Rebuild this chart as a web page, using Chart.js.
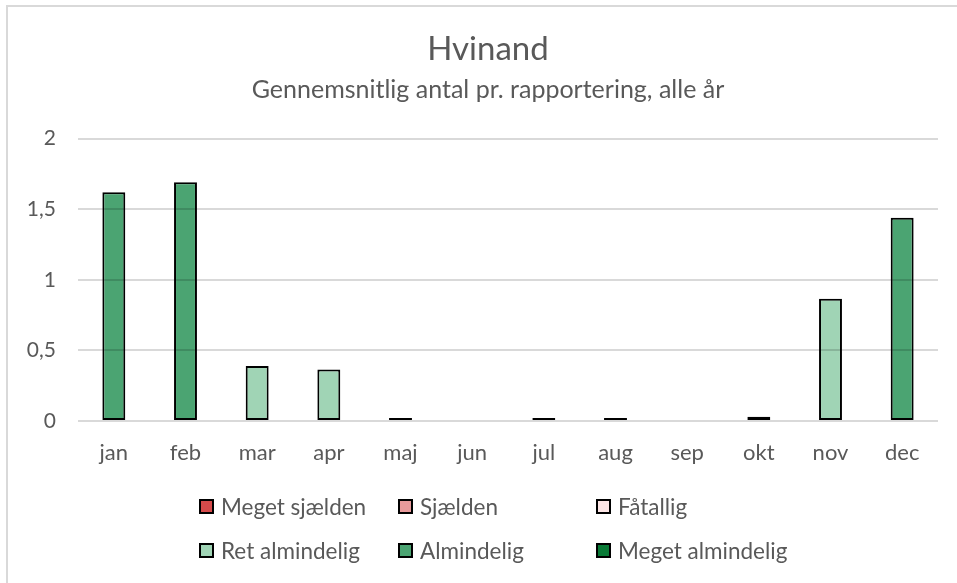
<!DOCTYPE html>
<html>
<head>
<meta charset="utf-8">
<script src="https://cdn.jsdelivr.net/npm/chart.js@4/dist/chart.umd.min.js"></script>
<style>
  html, body { margin: 0; padding: 0; background: #fff; overflow: hidden; }
  body { width: 957px; height: 583px; position: relative; font-family: Lato, "Open Sans", sans-serif; }
  #frame { position: absolute; left: 6px; top: 5px; width: 1000px; height: 1000px; border: 2px solid #d9d9d9; box-sizing: border-box; }
  #wrap { position: absolute; left: 0; top: 0; width: 957px; height: 583px; }
  .lg { position: absolute; display: flex; align-items: center; font-size: 22.5px; color: #595959; white-space: nowrap; height: 26px; }
  .lg .box { width: 11px; height: 11px; border: 2px solid #000; margin-right: 7px; }
</style>
</head>
<body>
<div id="frame"></div>
<div id="wrap"><canvas id="c" width="957" height="583"></canvas></div>
<script>
const months = ['jan','feb','mar','apr','maj','jun','jul','aug','sep','okt','nov','dec'];
const values = [1.62, 1.69, 0.39, 0.365, 0.005, 0, 0.005, 0.005, 0, 0.03, 0.865, 1.44];
const classOf = ['Almindelig','Almindelig','Ret almindelig','Ret almindelig','Sjælden',null,'Sjælden','Sjælden',null,'Fåtallig','Ret almindelig','Almindelig'];
const classNames = ['Meget sjælden','Sjælden','Fåtallig','Ret almindelig','Almindelig','Meget almindelig'];
const classColors = ['#d64b4b','#e89a9b','#fde6e6','#a0d4b5','#4ba472','#097a36'];
const yTicks = [0, 0.5, 1, 1.5, 2];

const datasets = classNames.map((name, k) => ({
  label: name,
  data: values.map((v, i) => classOf[i] === name ? v : null),
  backgroundColor: classColors[k],
  borderColor: '#000',
  borderWidth: 2,
  borderSkipped: false,
  grouped: false,
  minBarLength: 3,
  barPercentage: 0.32,
  categoryPercentage: 1
}));

const fontFam = 'Lato, "Open Sans", sans-serif';
new Chart(document.getElementById('c'), {
  type: 'bar',
  data: { labels: months, datasets },
  options: {
    responsive: false,
    animation: false,
    devicePixelRatio: 1,
    layout: { padding: { left: 19, right: 0, top: 0, bottom: 0 } },
    plugins: {
      legend: { display: false },
      tooltip: { enabled: false },
      title: {
        display: true, text: 'Hvinand', color: '#595959',
        font: { family: fontFam, size: 33, weight: 'normal' },
        padding: { top: 30, bottom: 5 }
      },
      subtitle: {
        display: true, text: 'Gennemsnitlig antal pr. rapportering, alle år', color: '#595959',
        font: { family: fontFam, size: 25, weight: 'normal' },
        padding: { top: 0, bottom: 34 }
      }
    },
    scales: {
      x: {
        grid: { display: false, drawTicks: false },
        border: { display: false },
        ticks: { color: '#595959', font: { family: fontFam, size: 22 }, padding: 19 },
        afterFit: s => { s.height = 162; }
      },
      y: {
        min: 0, max: 2,
        afterBuildTicks: s => { s.ticks = yTicks.map(v => ({ value: v })); },
        grid: { color: 'rgba(0,0,0,0.15)', lineWidth: 2, drawTicks: false, z: 1 },
        border: { display: false },
        ticks: {
          color: '#595959', font: { family: fontFam, size: 21 }, padding: 22,
          callback: v => String(v).replace('.', ',')
        },
        afterFit: s => { s.width = 59; }
      },
      yRight: {
        type: 'linear', position: 'right', display: true,
        min: 0, max: 2,
        grid: { display: false, drawTicks: false },
        border: { display: false },
        ticks: { display: false },
        afterFit: s => { s.width = 19; }
      }
    }
  }
});

// Legend (HTML, 3 columns x 2 rows)
const colX = [199, 398, 596];
const rowY = [493, 537];
classNames.forEach((name, k) => {
  const d = document.createElement('div');
  d.className = 'lg';
  d.style.left = colX[k % 3] + 'px';
  d.style.top = rowY[Math.floor(k / 3)] + 'px';
  const b = document.createElement('span');
  b.className = 'box';
  b.style.background = classColors[k];
  const t = document.createElement('span');
  t.textContent = name;
  d.appendChild(b); d.appendChild(t);
  document.body.appendChild(d);
});
</script>
</body>
</html>
